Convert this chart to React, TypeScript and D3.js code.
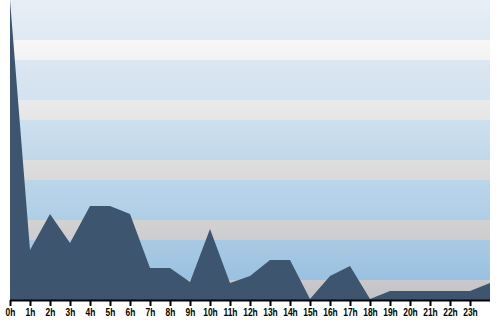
import React from "react";
import * as d3 from "d3";

const hours = ["0h","1h","2h","3h","4h","5h","6h","7h","8h","9h","10h","11h","12h","13h","14h","15h","16h","17h","18h","19h","20h","21h","22h","23h"];
const values = [150, 25, 43, 28.5, 47, 47, 43, 16, 16, 9, 35.5, 8.5, 12, 20, 20, 0.5, 12, 17, 0.5, 4.5, 4.5, 4.5, 4.5, 4.5, 8.5];
const grayBandStarts = [0, 30, 60, 90, 120];
const grayBandColors = [
  ["#c9c9cb", "#c3c3c5"],
  ["#d2d2d3", "#cdcdcf"],
  ["#dededf", "#d9d9db"],
  ["#eaeaea", "#e6e6e7"],
  ["#f7f7f7", "#f2f2f2"],
];

export default function App() {
  const W = 500, H = 320;
  const x = d3.scaleLinear().domain([0, 24]).range([10, 490]);
  const y = d3.scaleLinear().domain([0, 150]).range([300, 0]);
  const area = d3.area<number>()
    .x((_, i) => x(i))
    .y0(y(0))
    .y1((d) => y(d));
  return (
    <svg width={W} height={H} style={{ position: "absolute", left: 0, top: 0, display: "block" }}>
      <defs>
        <linearGradient id="bg" x1="0" y1="0" x2="0" y2="1">
          <stop offset="0%" stopColor="#e7eef6" />
          <stop offset="35%" stopColor="#d2e2ef" />
          <stop offset="70%" stopColor="#b2d0e7" />
          <stop offset="100%" stopColor="#94bddf" />
        </linearGradient>
        {grayBandColors.map((c, i) => (
          <linearGradient key={i} id={`g${i}`} x1="0" y1="0" x2="0" y2="1">
            <stop offset="0%" stopColor={c[0]} />
            <stop offset="100%" stopColor={c[1]} />
          </linearGradient>
        ))}
      </defs>
      <rect x={x(0)} y={y(150)} width={x(24) - x(0)} height={y(0) - y(150)} fill="url(#bg)" />
      {grayBandStarts.map((s, i) => (
        <rect key={i} x={x(0)} y={y(s + 10)} width={x(24) - x(0)} height={y(s) - y(s + 10)} fill={`url(#g${i})`} />
      ))}
      <path d={area(values) || ""} fill="#3e556f" />
      <line x1={x(0)} x2={x(24)} y1={300.5} y2={300.5} stroke="#000" strokeWidth={2} />
      {hours.map((h, i) => (
        <g key={h} transform={`translate(${Math.round(x(i)) + 0.5},0)`}>
          <line y1={300} y2={306} stroke="#000" strokeWidth={2} />
          <text y={316} transform="scale(0.8,1)" textAnchor="middle" fontFamily="'Liberation Sans', Arial, sans-serif" fontWeight="bold" fontSize={10.5} fill="#000">{h}</text>
        </g>
      ))}
    </svg>
  );
}
